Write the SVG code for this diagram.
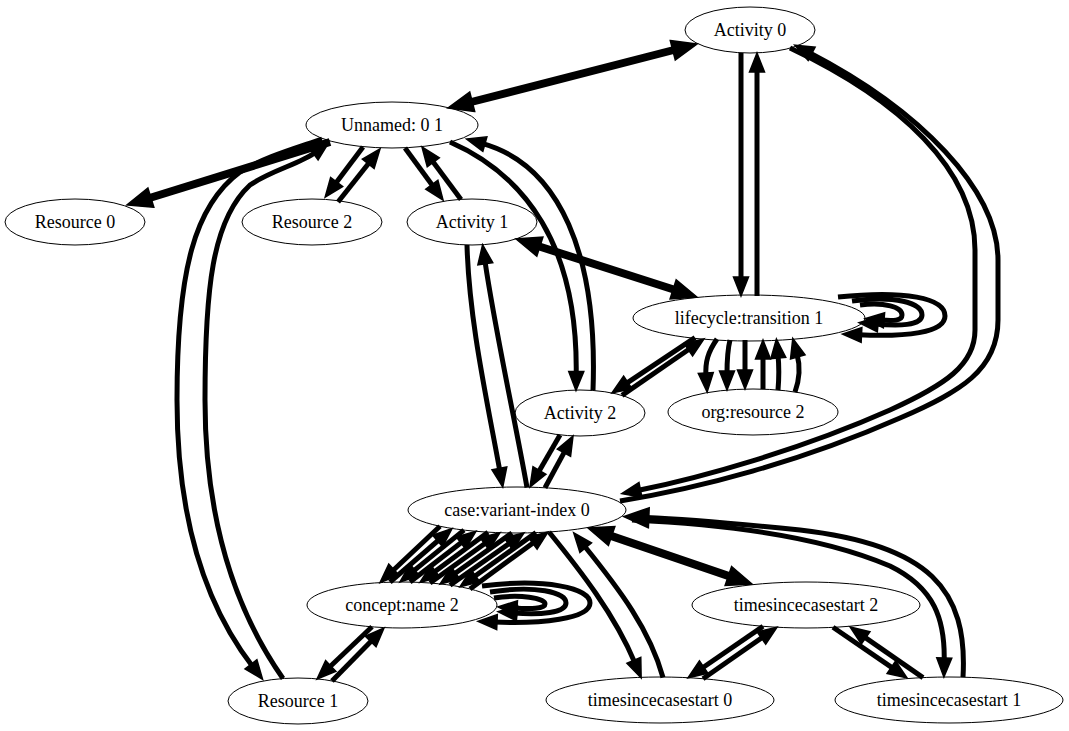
<svg xmlns="http://www.w3.org/2000/svg" width="1069" height="731" viewBox="0 0 1069 731">
<style>
.n ellipse{fill:#fff;stroke:#000;stroke-width:1}
.n text{font-family:"Liberation Serif","Times New Roman",serif;font-size:18px;text-anchor:middle;fill:#000}
.e{fill:none;stroke:#000;stroke-width:5;marker-end:url(#a)}
.t{stroke-width:8;marker-end:url(#b)}
.bh{marker-end:url(#b)}
.both{marker-start:url(#b)}
</style>
<defs>
<marker id="a" markerUnits="userSpaceOnUse" viewBox="-4 -10 24 20" markerWidth="24" markerHeight="20" refX="0" refY="0" orient="auto-start-reverse" overflow="visible"><path d="M-3,-7.5 L16,0 L-3,7.5 z" fill="#000" stroke="#000" stroke-width="1.5" stroke-linejoin="miter"/></marker>
<marker id="b" markerUnits="userSpaceOnUse" viewBox="-4 -12 30 24" markerWidth="30" markerHeight="24" refX="0" refY="0" orient="auto-start-reverse" overflow="visible"><path d="M-3,-10 L22,0 L-3,10 z" fill="#000" stroke="#000" stroke-width="1.5" stroke-linejoin="miter"/></marker>
</defs>
<rect width="1069" height="731" fill="#fff"/>
<g id="nodes">
<g id="activity0" class="n"><ellipse cx="750" cy="30" rx="65" ry="23"/><text x="750" y="36">Activity 0</text></g>
<g id="unnamed01" class="n"><ellipse cx="392" cy="125" rx="86" ry="23"/><text x="392" y="131">Unnamed: 0 1</text></g>
<g id="resource0" class="n"><ellipse cx="75" cy="222" rx="70" ry="23"/><text x="75" y="228">Resource 0</text></g>
<g id="resource2" class="n"><ellipse cx="312" cy="222" rx="70" ry="23"/><text x="312" y="228">Resource 2</text></g>
<g id="activity1" class="n"><ellipse cx="472" cy="222" rx="65" ry="23"/><text x="472" y="228">Activity 1</text></g>
<g id="lifecycle" class="n"><ellipse cx="749" cy="318" rx="116" ry="23"/><text x="749" y="324">lifecycle:transition 1</text></g>
<g id="orgresource2" class="n"><ellipse cx="753" cy="412" rx="85" ry="23"/><text x="753" y="418">org:resource 2</text></g>
<g id="activity2" class="n"><ellipse cx="580" cy="413" rx="65" ry="23"/><text x="580" y="419">Activity 2</text></g>
<g id="casevariant" class="n"><ellipse cx="517" cy="510" rx="109" ry="23"/><text x="517" y="516">case:variant-index 0</text></g>
<g id="conceptname2" class="n"><ellipse cx="402" cy="605" rx="95" ry="23"/><text x="402" y="611">concept:name 2</text></g>
<g id="tscs2" class="n"><ellipse cx="806" cy="605" rx="114" ry="23"/><text x="806" y="611">timesincecasestart 2</text></g>
<g id="tscs0" class="n"><ellipse cx="660" cy="700" rx="114" ry="23"/><text x="660" y="706">timesincecasestart 0</text></g>
<g id="tscs1" class="n"><ellipse cx="949" cy="700" rx="114" ry="23"/><text x="949" y="706">timesincecasestart 1</text></g>
<g id="resource1" class="n"><ellipse cx="298" cy="701" rx="70" ry="23"/><text x="298" y="707">Resource 1</text></g>
</g>
<g id="edges">
<path class="e t both" d="M469.3,102.5 L675.7,49.5"/>
<path class="e t" d="M330,142 L148,198.5"/>
<path class="e" d="M363,147 L334.8,184.4"/>
<path class="e" d="M338,202 L370.1,161.5"/>
<path class="e" d="M405,148 L433.6,187.1"/>
<path class="e" d="M461,199.5 L431.5,159.8"/>
<path class="e" d="M450,142 C525,175 578,245 576.2,374.5"/>
<path class="e" d="M593,390.5 C598,255 560,165 482,143.3"/>
<path class="e" d="M467,245 C469,320 487,400 499.9,471.3"/>
<path class="e" d="M527,487.5 C515,420 495,330 484.9,260.7"/>
<path class="e t both" d="M537,245.7 L676,290.3"/>
<path class="e" d="M741,53 L741,280"/>
<path class="e" d="M757,296 L757,69"/>
<path class="e" d="M620,501 C700,488 800,462 900,418 C960,392 998,370 998,320 L998,260 C998,190 920,110 809,52.5"/>
<path class="e" d="M790,48 C900,100 975,170 975,250 L975,330 C975,365 945,385 890,410 C800,450 700,478 637.5,490.5"/>
<path class="e" d="M838,297 C905,290 945,298 945,316 C945,333 905,337 858.5,334.8"/>
<path class="e" d="M852,301 C895,295 922,303 922,315 C922,326 898,326 875,324"/>
<path class="e" d="M860,305 C885,302 902,307 902,315 C902,321 893,321 881,320"/>
<path class="e" d="M717,339 C708,352 705,362 706,376"/>
<path class="e" d="M730,340 C727,352 727,365 727,374"/>
<path class="e" d="M745,340 L745,373"/>
<path class="e" d="M763,389 L763,356"/>
<path class="e" d="M778,390 C779,378 779,365 778,355"/>
<path class="e" d="M795,392 C800,378 800,365 797,354"/>
<path class="e" d="M695,337.6 L625.3,384.1"/>
<path class="e" d="M622,395.4 L690.8,348"/>
<path class="e" d="M560,435 L538,473.1"/>
<path class="e" d="M545,487.8 L565.4,450.1"/>
<path class="e" d="M440,526.3 L391.7,571.7"/>
<path class="e" d="M390,582.2 L439.9,539"/>
<path class="e" d="M464,530.1 L412.4,571.9"/>
<path class="e" d="M410,582.1 L463.3,541.1"/>
<path class="e" d="M488,532.2 L432.9,572.9"/>
<path class="e" d="M430,583 L487,542"/>
<path class="e" d="M512,533 L453.1,574.7"/>
<path class="e" d="M450,585.2 L510.9,542.2"/>
<path class="e" d="M536,532.6 L473,577.5"/>
<path class="e" d="M470,588.9 L535.1,541.4"/>
<path class="e" d="M482,586 C545,578 590,588 590,603 C590,619 540,624 494,622"/>
<path class="e" d="M490,592 C535,585 566,592 566,603 C566,613 540,615 514,613"/>
<path class="e" d="M494,598 C520,594 545,598 545,604 C545,609 530,609 514,608"/>
<path class="e" d="M372,626.8 L328.6,668"/>
<path class="e" d="M332,680.9 L372.8,639.4"/>
<path class="e" d="M549,532 C580,570 615,615 635,663.1"/>
<path class="e" d="M663,677.5 C650,630 620,590 583.8,545.3"/>
<path class="e t both" d="M608.8,535.1 L731.2,576.9"/>
<path class="e bh" d="M963,677.2 C968,590 930,545 800,530 C720,522 680,519 645.8,517.6"/>
<path class="e" d="M632,520 C720,524 820,536 890,566 C935,588 945,620 944.2,661"/>
<path class="e" d="M763,626.3 L701.2,668.7"/>
<path class="e" d="M703,678.7 L763.9,636.3"/>
<path class="e" d="M833,627.3 L893.8,668.9"/>
<path class="e" d="M923,677.6 L863.2,636.1"/>
<path class="e" d="M322,139 C290,150 265,157 240,172 C195,205 177,270 177,400 C177,520 205,605 252.8,666.7"/>
<path class="e" d="M283,678.5 C235,610 205,520 205,400 C205,290 212,220 250,185 C272,170 300,164 316,152"/>
</g>
</svg>
